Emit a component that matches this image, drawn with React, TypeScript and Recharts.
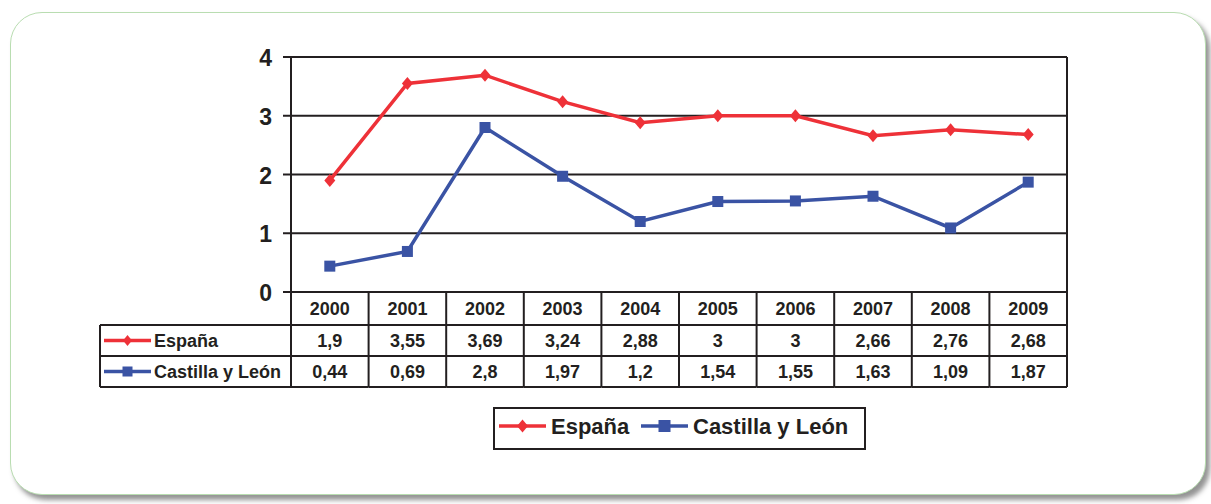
import { LineChart, Line, XAxis, YAxis, CartesianGrid, Legend } from "recharts";

const years = ["2000", "2001", "2002", "2003", "2004", "2005", "2006", "2007", "2008", "2009"];
const espana = [1.9, 3.55, 3.69, 3.24, 2.88, 3, 3, 2.66, 2.76, 2.68];
const castilla = [0.44, 0.69, 2.8, 1.97, 1.2, 1.54, 1.55, 1.63, 1.09, 1.87];
const yTicks = [0, 1, 2, 3, 4];

const series = [
  { key: "espana", name: "España", color: "#ee3138", shape: "diamond" },
  { key: "castilla", name: "Castilla y León", color: "#3a53a4", shape: "square" },
];

const data = years.map((year, i) => ({ year, espana: espana[i], castilla: castilla[i] }));

const INK = "#231f20";
const FONT = "'Liberation Sans', Arial, sans-serif";
const PLOT_W = 776;
const LABEL_LEFT = 100;
const HEAD_H = 33;
const ROW_H = 31;

const fmt = (v: number) => String(v).replace(".", ",");

function Marker({ cx, cy, color, shape, size }: { cx: number; cy: number; color: string; shape: string; size: number }) {
  if (cx == null || cy == null) return null;
  const h = size / 2;
  if (shape === "diamond") {
    return <path d={`M${cx},${cy - h - 0.5}L${cx + h - 0.5},${cy}L${cx},${cy + h + 0.5}L${cx - h + 0.5},${cy}Z`} fill={color} />;
  }
  return <rect x={cx - h} y={cy - h} width={size} height={size} fill={color} />;
}

function LineIcon({ x, y, color, shape, len, size }: { x: number; y: number; color: string; shape: string; len: number; size: number }) {
  return (
    <g>
      <line x1={x} y1={y} x2={x + len} y2={y} stroke={color} strokeWidth={3.5} />
      <Marker cx={x + len / 2} cy={y} color={color} shape={shape} size={size} />
    </g>
  );
}

// table under the plot, one column per x tick
function TableTick(props: any) {
  const { x, y, payload, index } = props;
  const half = payload?.offset ? payload.offset : PLOT_W / years.length / 2;
  const left = x - half;
  const right = x + half;
  const i = years.indexOf(payload.value);
  const rows = [espana[i], castilla[i]];
  const textStyle = { fontFamily: FONT, fontWeight: 700, fontSize: 18, fill: INK };
  const bottom = y + HEAD_H + ROW_H * 2;
  return (
    <g>
      <text x={x} y={y + HEAD_H / 2 + 6.5} textAnchor="middle" {...textStyle}>
        {payload.value}
      </text>
      {rows.map((v, r) => (
        <text key={r} x={x} y={y + HEAD_H + ROW_H * r + ROW_H / 2 + 6.5} textAnchor="middle" {...textStyle}>
          {fmt(v)}
        </text>
      ))}
      <line x1={right} y1={y} x2={right} y2={bottom} stroke={INK} strokeWidth={2} />
      {[HEAD_H, HEAD_H + ROW_H, HEAD_H + ROW_H * 2].map((d) => (
        <line key={d} x1={left} y1={y + d} x2={right} y2={y + d} stroke={INK} strokeWidth={2} />
      ))}
      {index === 0 && (
        <g>
          <line x1={left} y1={y} x2={left} y2={bottom} stroke={INK} strokeWidth={2} />
          <line x1={LABEL_LEFT} y1={y + HEAD_H} x2={LABEL_LEFT} y2={bottom} stroke={INK} strokeWidth={2} />
          {[HEAD_H, HEAD_H + ROW_H, HEAD_H + ROW_H * 2].map((d) => (
            <line key={d} x1={LABEL_LEFT} y1={y + d} x2={left} y2={y + d} stroke={INK} strokeWidth={2} />
          ))}
          {series.map((s, r) => {
            const cy = y + HEAD_H + ROW_H * r + ROW_H / 2;
            return (
              <g key={s.key}>
                <LineIcon x={LABEL_LEFT + 4} y={cy} color={s.color} shape={s.shape} len={47} size={10} />
                <text x={LABEL_LEFT + 54} y={cy + 6.5} {...textStyle}>
                  {s.name}
                </text>
              </g>
            );
          })}
        </g>
      )}
    </g>
  );
}

function LegendBox() {
  return (
    <div
      style={{
        width: 369,
        height: 39,
        border: `2px solid ${INK}`,
        background: "#fff",
        boxSizing: "content-box",
      }}
    >
      <svg width={369} height={39}>
        {series.map((s, i) => {
          const x0 = i === 0 ? 4 : 146;
          return (
            <g key={s.key}>
              <LineIcon x={x0} y={17} color={s.color} shape={s.shape} len={47} size={12} />
              <text x={x0 + 52} y={25} fontFamily={FONT} fontWeight={700} fontSize={22} fill={INK}>
                {s.name}
              </text>
            </g>
          );
        })}
      </svg>
    </div>
  );
}

export default function App() {
  return (
    <div style={{ position: "absolute", left: 0, top: 0, width: 1211, height: 504, background: "#fff" }}>
      <div
        style={{
          position: "absolute",
          left: 10,
          top: 12,
          width: 1194,
          height: 481,
          borderRadius: 32,
          border: "1px solid #b9ddb1",
          boxShadow: "4px 5px 5px rgba(60,60,60,0.55)",
          background: "#fff",
        }}
      />
      <div style={{ position: "absolute", left: 0, top: 0 }}>
        <LineChart width={1211} height={504} data={data} margin={{ top: 57, right: 144, bottom: 112, left: 231 }}>
          <CartesianGrid
            stroke={INK}
            strokeWidth={2}
            verticalCoordinatesGenerator={({ offset }: any) => [offset.left, offset.left + offset.width]}
          />
          <XAxis
            dataKey="year"
            scale="band"
            height={100}
            axisLine={{ stroke: INK, strokeWidth: 2 }}
            tickLine={false}
            tickSize={0}
            tickMargin={0}
            interval={0}
            tick={<TableTick />}
          />
          <YAxis
            width={60}
            domain={[0, 4]}
            ticks={yTicks}
            axisLine={{ stroke: INK, strokeWidth: 2 }}
            tickLine={{ stroke: INK, strokeWidth: 2 }}
            tickSize={8}
            tickMargin={11}
            tick={{ fontFamily: FONT, fontWeight: 700, fontSize: 23, fill: INK, dy: 1 }}
          />
          <Legend
            layout="horizontal"
            verticalAlign="middle"
            align="center"
            content={<LegendBox />}
            wrapperStyle={{ left: 493, top: 407, width: 373, height: 43 }}
          />
          {series.map((s) => (
            <Line
              key={s.key}
              dataKey={s.key}
              name={s.name}
              stroke={s.color}
              strokeWidth={3.5}
              isAnimationActive={false}
              dot={(p: any) => <Marker key={p.index} cx={p.cx} cy={p.cy} color={s.color} shape={s.shape} size={s.shape === "diamond" ? 12 : 11} />}
              activeDot={false}
            />
          ))}
        </LineChart>
      </div>
    </div>
  );
}
